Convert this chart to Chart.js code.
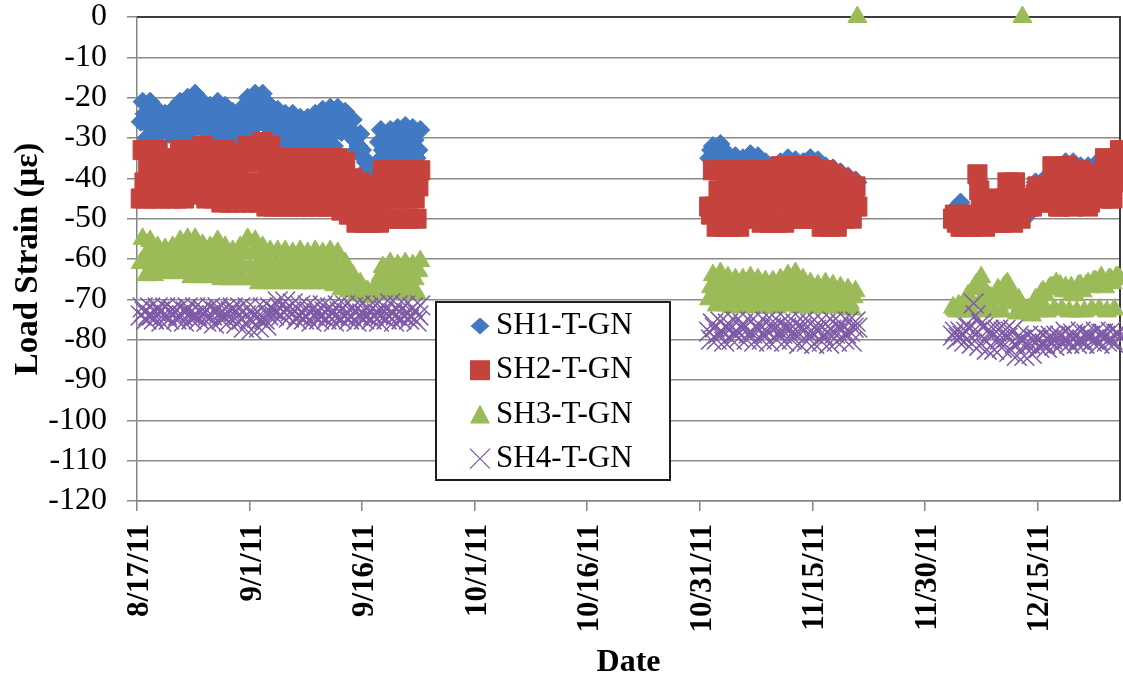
<!DOCTYPE html>
<html>
<head>
<meta charset="utf-8">
<title>Load Strain - SH gauges</title>
<script src="https://cdn.jsdelivr.net/npm/chart.js@4.4.1/dist/chart.umd.min.js"></script>
<style>
  html, body { margin: 0; padding: 0; background: #fff; }
  #wrap { width: 1123px; height: 679px; }
</style>
</head>
<body>
<div id="wrap"><canvas id="strainChart" width="1123" height="679"></canvas></div>
<script>
// Gauges are read every 6 hours; x is in days after 8/17/11.
// Three recording periods, each starts at its own day offset.
const READ_STEP = 0.25;
const segStart = [0.5, 76.25, 108.75];

const dateTicks = ["8/17/11", "9/1/11", "9/16/11", "10/1/11", "10/16/11", "10/31/11", "11/15/11", "11/30/11", "12/15/11"];
const seriesNames = ["SH1-T-GN", "SH2-T-GN", "SH3-T-GN", "SH4-T-GN"];

// ---- SH1-T-GN ----
const sh1a = [-26, -21,
  -24, -30, -27, -21,  -25.5, -30, -28, -23,  -25.5, -28.5, -27, -24,  -25, -29, -27, -23,
  -24, -30, -27, -21,  -23, -30, -26.5, -20,  -22, -28.5, -25, -19,  -23, -27, -25, -21,
  -24.5, -30, -27.5, -22,  -24, -30, -27, -21,  -24.5, -30, -27.5, -22,  -25.5, -30, -28, -23.5,
  -25, -29.5, -27, -23,  -23, -29, -26, -20,  -22, -28, -25, -19,  -21.5, -26, -24, -19,
  -23.5, -27, -25.5, -22,  -25.5, -31, -28.5, -23,  -26.5, -32, -29.5, -24,  -26.5, -32, -29, -24,
  -27.5, -32, -29.5, -25,  -27, -32, -29.5, -25,  -26.5, -32, -29, -24,  -26, -32, -29, -23,
  -25.5, -32, -29, -22.5,  -25.5, -32, -28.5, -22.5,  -25, -28.5, -27, -23.5,  -26.5, -29, -28, -25.5,
  -30.5, -33, -32, -29,  -33, -35, -36, -37.5,  -39, -40.5, -41, -39.5,  -36, -31, -28, -33,
  -30.5, -35, -32.5, -28,  -30, -35, -32.5, -27.5,  -29.5, -35, -32.5, -27,  -30, -35, -32.5, -27.5,
  -30.5, -35, -33, -28];
const sh1b = [-35, -33, -32,
  -34, -36, -33, -31.5,  -36, -37, -35, -34,  -36, -37, -35, -34.5,  -36.5, -37, -36, -35,
  -36, -37, -35, -34,  -36, -37, -35.5, -34.5,  -37, -38, -36.5, -36,  -38, -39, -37.5, -37,
  -37, -38, -36.5, -36,  -36.5, -37.5, -36, -35,  -36.5, -37, -36, -35.5,  -37, -38, -36.5, -36,
  -36, -37, -35.5, -35,  -36.5, -37.5, -36, -35.5,  -38, -39, -37.5, -37,  -38.5, -39.5, -38, -37.5,
  -39.5, -40, -39, -38.5,  -40.5, -41, -40, -39.5,  -41.5, -42, -41, -40.5,
  -41];
const sh1c = [-48,
  -47.5, -49, -47, -46,  -49.5, -51, -50, -49,  -50, -51, -49.5, -49,  -49, -50, -48.5, -48,
  -48.5, -50, -48, -47,  -48, -49, -47.5, -47,  -47, -48, -46.5, -46,  -46.5, -48, -46, -45.5,
  -47, -48, -46.5, -46,  -49, -50, -48.5, -48,  -47, -48, -45, -41,  -42.5, -43.5, -41.5, -40.5,
  -41, -42, -40, -39,  -39, -40, -38, -37,  -38, -39, -37, -36,  -38, -39, -37, -36,
  -39, -40, -38, -37,  -39, -40, -38, -37,  -38.5, -39.5, -37.5, -36.5,  -38, -39, -37, -36,
  -37, -38, -36, -35,  -36, -37, -35, -34,
  -33];

// ---- SH2-T-GN ----
const sh2a = [-45, -33,
  -41, -45, -37, -33,  -41, -45, -37, -33,  -42, -45, -39, -36,  -41, -45, -38, -35,
  -41, -45, -37, -33,  -41, -45, -37, -33,  -40, -44, -36, -33,  -40, -44, -36, -32,
  -41, -45, -37, -33,  -41, -45, -37, -33,  -42, -46, -37, -33,  -42, -46, -38, -34,
  -42, -46, -39, -35,  -42, -46, -36, -32,  -42, -46, -36, -32,  -41, -46, -36, -31,
  -42, -47, -37, -32,  -43, -47, -39, -35,  -43, -47, -39, -35,  -43, -47, -39, -35,
  -43, -47, -39, -35,  -43, -47, -39, -35,  -43, -47, -39, -35,  -43, -47, -40, -36,
  -43, -47, -39, -35,  -43, -47, -39, -35,  -44, -48, -40, -36,  -46, -49, -43, -40,
  -47, -51, -44, -41,  -48, -51, -45, -42,  -49, -51, -47, -46,  -46, -51, -42, -38,
  -45, -50, -42, -38,  -45, -50, -42, -38,  -45, -50, -42, -38,  -45, -50, -42, -38,
  -45, -50, -42, -38];
const sh2b = [-47, -49, -38,
  -47, -52, -43, -38,  -47, -52, -42, -38,  -48, -52, -43, -38,  -47, -52, -42, -38,
  -46, -50, -42, -38,  -46, -50, -42, -38,  -47, -51, -42, -38,  -47, -51, -43, -39,
  -46, -51, -42, -37,  -46, -51, -41, -37,  -46, -50, -41, -37,  -45, -50, -41, -37,
  -46, -50, -41, -37,  -46, -50, -42, -38,  -47, -52, -43, -38,  -48, -52, -43, -39,
  -48, -52, -44, -40,  -47, -50, -44, -41,  -47, -50, -45, -42,
  -47];
const sh2c = [-50,
  -49, -51, -50, -52,  -50, -52, -51, -49,  -51, -52, -50, -49,  -39, -43, -47, -51,
  -52, -50, -48, -46,  -49, -51, -47, -45,  -48, -51, -46, -45,  -41, -44, -48, -51,
  -41, -45, -48, -50,  -47, -46, -45, -47,  -46, -47, -45, -44,  -42, -44, -46, -45,
  -46, -44, -42, -43,  -37, -40, -44, -47,  -47, -43, -40, -37,  -37, -41, -44, -47,
  -46, -43, -40, -38,  -39, -42, -44, -47,  -46, -43, -41, -39,  -39, -42, -44, -45,
  -35, -38, -42, -45,  -45, -41, -38, -35,
  -33];

// ---- SH3-T-GN ----
const sh3a = [-61, -55,
  -61, -64, -58, -55.5,  -61.5, -64, -59, -57,  -61.5, -63.5, -59.5, -57.5,  -61, -63.5, -59, -57,
  -60.5, -63.5, -58, -55.5,  -60.5, -63.5, -58, -55,  -61, -64.5, -58, -55,  -61.5, -64.5, -59, -56.5,
  -62, -64.5, -59.5, -57,  -61.5, -64.5, -58.5, -55.5,  -62.5, -65, -60, -57,  -62.5, -65, -60.5, -58,
  -62.5, -65, -60, -57,  -62, -65, -58.5, -55,  -62, -65, -58.5, -55.5,  -63, -66, -60, -57,
  -63.5, -66, -61, -58,  -63.5, -66, -61, -58,  -63.5, -66, -61, -58,  -63.5, -66, -61, -58.5,
  -63.5, -66, -61, -58,  -63.5, -66, -61, -58.5,  -63.5, -66, -61, -58,  -63.5, -66, -61, -58.5,
  -63.5, -66, -61, -58,  -64, -66.5, -61.5, -58.5,  -65.5, -67.5, -63, -61,  -66.5, -68, -65, -64,
  -68, -69, -67, -66,  -68.5, -69, -68, -68,  -69, -69.5, -68.5, -68.5,  -66, -68.5, -64, -62,
  -65.5, -68.5, -63, -61,  -66, -68.5, -63.5, -61.5,  -65.5, -68.5, -63, -61,  -66, -68.5, -63.5, -61.5,
  -65, -68.5, -63, -60.5];
const sh3b = [-70, -67, -64,
  -69, -71.5, -66, -63.5,  -69.5, -71.5, -67, -64.5,  -69.5, -72, -67, -65,  -70, -72, -67.5, -65,
  -69.5, -71.5, -67, -64.5,  -69.5, -72, -67, -65,  -70, -72, -68, -65.5,  -70, -72, -68, -65.5,
  -69.5, -72, -67, -65,  -69, -71.5, -66.5, -64,  -69, -71.5, -66, -63.5,  -69.5, -72, -67, -65,
  -70, -72, -68, -66,  -70, -72, -68, -66.5,  -70, -72, -68, -66,  -70, -72, -68, -66.5,
  -70.5, -72, -69, -67,  -70.5, -72, -69, -67.5,  -71, -72.5, -69.5, -68,
  0];
const sh3c = [-72,
  -72.5, -73, -71.5, -72,  -72, -73, -70.5, -69,  -70, -73, -67.5, -66.5,  -66, -71, -64.5, -67,
  -70, -73, -71, -69.5,  -70, -73, -68.5, -67.5,  -69, -73, -67, -66.5,  -66, -70.5, -68, -70,
  -71, -73.5, -70, -71.5,  0, -73, -73.5, -72.5,  -73, -74, -72, -70,  -70, -73, -68.5, -68,
  -69, -73, -67.5, -67,  -67, -72.5, -66, -67.5,  -66.5, -72.5, -68, -67,  -68, -73, -67, -68.5,
  -69, -73, -66.5, -66.5,  -68, -73, -66.5, -66,  -67, -72.5, -65.5, -65.5,  -66, -72.5, -64.5, -65.5,
  -67, -73, -65, -65,  -66, -72.5, -64.5, -64.5,
  -65];

// ---- SH4-T-GN ----
const sh4a = [-74, -72,
  -73, -75, -74, -72,  -74, -75, -73, -72,  -73, -75.5, -74, -72,  -74, -75, -73, -72.5,
  -73, -75, -74, -72,  -74, -75.5, -73, -72,  -73.5, -75, -74, -72,  -74, -75, -73, -72.5,
  -73, -75.5, -74, -72,  -74, -76, -73, -72,  -73.5, -75, -74, -72.5,  -74, -75.5, -73, -72,
  -73, -76, -74, -72,  -75, -77, -74, -72,  -75, -77.5, -74, -72.5,  -74.5, -77, -75, -72,
  -75, -76.5, -74, -72,  -72.5, -74, -73, -70.5,  -72, -74, -73, -70.5,  -72.5, -74.5, -73, -71,
  -73, -75, -74, -71.5,  -73.5, -75, -74, -71.5,  -73, -75.5, -74, -72,  -73.5, -75, -74, -71.5,
  -73, -75, -74, -72,  -73.5, -75.5, -74, -71.5,  -73, -75, -74, -71.5,  -73.5, -75, -74, -72,
  -73, -75.5, -74, -71.5,  -73.5, -75, -74, -72,  -73, -75, -74, -71.5,  -73.5, -75.5, -74, -71.5,
  -73, -75, -74, -71,  -73.5, -75.5, -74, -71.5,  -73, -75, -74, -71.5,  -73.5, -75, -74, -72,
  -73, -75.5, -74, -71.5];
const sh4b = [-78, -80, -76,
  -77, -80, -78.5, -75.5,  -78, -80.5, -77, -76,  -77.5, -80, -78.5, -75.5,  -78, -79.5, -77, -76,
  -77, -80, -78.5, -75.5,  -78.5, -80.5, -77, -76,  -77.5, -80, -78.5, -75.5,  -78, -80.5, -77, -75.5,
  -77, -80, -78.5, -76,  -78.5, -80.5, -77, -75.5,  -77.5, -80, -78, -76,  -78, -81, -77, -75.5,
  -77.5, -80.5, -78.5, -76,  -78.5, -81, -77.5, -76,  -77.5, -80.5, -79, -76,  -78, -81, -77.5, -75.5,
  -78.5, -80.5, -77, -76,  -77.5, -80, -78.5, -75.5,  -78, -80.5, -77, -75.5,
  -77];
const sh4c = [-79,
  -78, -80, -79.5, -78,  -79, -80.5, -78, -77,  -77, -81, -71, -74,  -78, -81.5, -76, -77,
  -80, -82.5, -77.5, -78,  -79, -82.5, -78, -77.5,  -80, -82, -78, -77.5,  -79.5, -83, -78, -77.5,
  -81, -84, -79, -80,  -80, -84, -81, -79,  -81, -83.5, -80, -79.5,  -80, -82, -81, -79,
  -81, -82, -80, -79,  -80, -81.5, -79, -79.5,  -79, -81, -80, -78,  -80, -81, -79, -78.5,
  -79, -81, -80, -78,  -80, -81, -78.5, -79,  -79, -80.5, -80, -78,  -80, -81, -78.5, -78.5,
  -79, -80.5, -80, -78,  -80, -81, -78.5, -78.5,
  -79];

const SERIF = "'Liberation Serif', 'Times New Roman', serif";
const GRID_GREY = "#8a8a8a";
const AXIS_GREY = "#858585";

// marker look of each gauge
const markerStyles = [
  { color: "#4179c3", shape: "rectRot", radius: 9.5, line: 1 },
  { color: "#c6433d", shape: "rect", radius: 13.5, line: 1 },
  { color: "#9bbb59", shape: "triangle", radius: 11, line: 1 },
  { color: "#7e5ba6", shape: "crossRot", radius: 14, line: 1.5 },
];

function toPoints(segments) {
  const pts = [];
  segments.forEach((vals, s) => {
    vals.forEach((y, i) => pts.push({ x: segStart[s] + i * READ_STEP, y: y }));
  });
  return pts;
}

const seriesData = [
  toPoints([sh1a, sh1b, sh1c]),
  toPoints([sh2a, sh2b, sh2c]),
  toPoints([sh3a, sh3b, sh3c]),
  toPoints([sh4a, sh4b, sh4c]),
];

const datasets = seriesNames.map((name, i) => {
  const m = markerStyles[i];
  return {
    label: name,
    data: seriesData[i],
    pointStyle: m.shape,
    pointRadius: m.radius,
    pointBackgroundColor: m.color,
    pointBorderColor: m.color,
    pointBorderWidth: m.line,
    clip: false,
    order: seriesNames.length - i, // later gauges sit on top
  };
});

// small marker shapes for the key box
function drawKeyMarker(ctx, shape, x, y, color) {
  ctx.save();
  ctx.fillStyle = color;
  ctx.strokeStyle = color;
  ctx.beginPath();
  if (shape === "rectRot") {
    ctx.moveTo(x - 9.5, y); ctx.lineTo(x, y - 8.5); ctx.lineTo(x + 9.5, y); ctx.lineTo(x, y + 8.5);
    ctx.closePath(); ctx.fill();
  } else if (shape === "rect") {
    ctx.rect(x - 10, y - 10, 20, 20); ctx.fill();
  } else if (shape === "triangle") {
    ctx.moveTo(x, y - 10); ctx.lineTo(x + 10, y + 9); ctx.lineTo(x - 10, y + 9);
    ctx.closePath(); ctx.fill();
  } else {
    ctx.lineWidth = 1.3;
    ctx.moveTo(x - 10, y - 10); ctx.lineTo(x + 10, y + 10);
    ctx.moveTo(x + 10, y - 10); ctx.lineTo(x - 10, y + 10);
    ctx.stroke();
  }
  ctx.restore();
}

const plotFrame = {
  id: "plotFrame",
  beforeDatasetsDraw(chart) {
    const { ctx, chartArea: a } = chart;
    ctx.save();
    ctx.strokeStyle = "#3c3c3c";
    ctx.lineWidth = 2;
    ctx.beginPath();
    ctx.moveTo(a.left, a.top);
    ctx.lineTo(a.right, a.top);
    ctx.lineTo(a.right, a.bottom);
    ctx.stroke();
    ctx.restore();
  },
  afterDraw(chart) {
    const { ctx, chartArea: a } = chart;
    const bx = a.left + 299, by = a.top + 285, bw = 234, bh = 178;
    ctx.save();
    ctx.fillStyle = "#fff";
    ctx.fillRect(bx, by, bw, bh);
    ctx.strokeStyle = "#1e1e1e";
    ctx.lineWidth = 2;
    ctx.strokeRect(bx, by, bw, bh);
    ctx.font = "31px " + SERIF;
    ctx.textBaseline = "middle";
    ctx.textAlign = "left";
    seriesNames.forEach((name, i) => {
      const cy = by + 24 + i * 44.2;
      drawKeyMarker(ctx, markerStyles[i].shape, bx + 44, cy, markerStyles[i].color);
      ctx.fillStyle = "#000";
      ctx.fillText(name, bx + 60, cy);
    });
    ctx.restore();
  },
};

new Chart(document.getElementById("strainChart"), {
  type: "scatter",
  data: { datasets },
  plugins: [plotFrame],
  options: {
    responsive: false,
    animation: false,
    events: [],
    layout: { autoPadding: false, padding: { top: 0, right: 3, bottom: 0, left: 0 } },
    plugins: {
      legend: { display: false },
      tooltip: { enabled: false },
    },
    scales: {
      x: {
        type: "linear",
        min: 0,
        max: 131,
        afterFit: (s) => { s.height = 178; },
        ticks: {
          stepSize: 15,
          includeBounds: false,
          autoSkip: false,
          minRotation: 90,
          maxRotation: 90,
          padding: 13,
          labelOffset: 3,
          color: "#000",
          font: { family: SERIF, size: 31, weight: "bold" },
          callback: (v, i) => dateTicks[i],
        },
        grid: { drawOnChartArea: false, tickLength: 10, color: AXIS_GREY, lineWidth: 1.5 },
        border: { color: AXIS_GREY, width: 1.5 },
        title: {
          display: true,
          text: "Date",
          color: "#000",
          font: { family: SERIF, size: 32, weight: "bold" },
          padding: { top: 0, bottom: -3 },
        },
      },
      y: {
        min: -120,
        max: 0,
        // fixed axis width; the label gap should not push the plot down
        afterFit: (s) => { s.width = 137; s.paddingTop = 17; s.paddingBottom = 17; },
        ticks: {
          stepSize: 10,
          autoSkip: false,
          padding: 20,
          color: "#000",
          font: { family: SERIF, size: 32, lineHeight: 1.05 },
        },
        grid: { color: GRID_GREY, lineWidth: 1.5, tickLength: 10 },
        border: { color: AXIS_GREY, width: 1.5 },
        title: {
          display: true,
          text: "Load Strain (με)",
          color: "#000",
          font: { family: SERIF, size: 33, weight: "bold" },
          padding: { top: 9, bottom: 0 },
        },
      },
    },
  },
});
</script>
</body>
</html>
